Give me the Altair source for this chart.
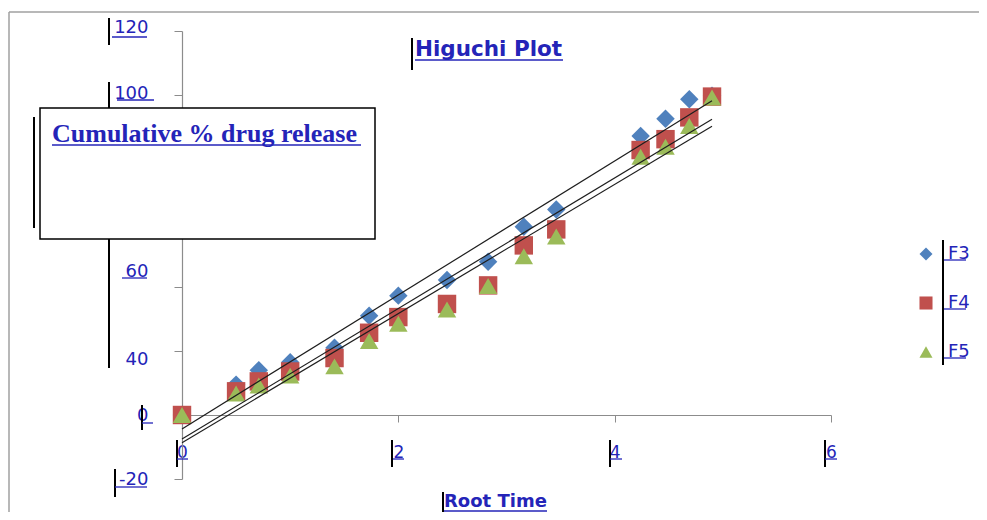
import altair as alt
import pandas as pd

# ---------------- data ----------------
root_time = [0, 0.5, 0.71, 1.0, 1.41, 1.73, 2.0, 2.45, 2.83, 3.16, 3.46, 4.24, 4.47, 4.69, 4.9]
f3 = [0, 9.5, 14.0, 16.5, 21.0, 31.0, 37.3, 42.2, 47.9, 58.8, 64.2, 87.2, 92.6, 98.7, 99.8]
f4 = [0, 7.4, 10.5, 13.6, 17.8, 25.7, 30.6, 34.7, 40.5, 53.0, 58.0, 82.8, 86.2, 93.0, 99.5]
f5 = [0, 6.7, 9.2, 12.3, 15.2, 23.1, 28.5, 33.0, 40.3, 49.6, 55.8, 80.7, 83.8, 90.3, 99.2]
series_names = ["F3", "F4", "F5"]
series_colors = ["#4F81BD", "#C0504D", "#9BBB59"]
series_shapes = ["diamond", "square", "triangle-up"]
x_ticks = [0, 2, 4, 6]
y_ticks = [-20, 0, 20, 40, 60, 80, 100, 120]

rows = []
for name, vals in zip(series_names, [f3, f4, f5]):
    for t, v in zip(root_time, vals):
        rows.append({"series": name, "x": t, "y": v})
df = pd.DataFrame(rows)

# ---------------- style ----------------
BLUE = "#2424b8"
GREY = "#8c8c8c"
W, H = 649, 448
one = alt.InlineData(values=[{"k": 1}])

x_scale = alt.Scale(domain=[0, 6], nice=False, zero=False)
y_scale = alt.Scale(domain=[-20, 120], nice=False, zero=False)

x_axis = alt.Axis(
    values=x_ticks, offset=-64, title=None, grid=False, format="d",
    domainColor=GREY, tickColor=GREY, tickSize=7, domainWidth=1.2,
    labelFont="DejaVu Sans", labelFontSize=17, labelColor=BLUE,
    labelBaseline="middle", labelPadding=30, labelFlush=False, labelOverlap=False,
)
y_axis = alt.Axis(
    values=y_ticks, title=None, grid=False,
    domainColor=GREY, tickColor=GREY, tickSize=8, domainWidth=1.2,
    labelFont="DejaVu Sans", labelFontSize=18, labelColor=BLUE,
    labelPadding=26, labelFlush=False, labelOverlap=False,
    labelExpr="datum.value == 20 || datum.value == 80 ? '' : '' + datum.value",
    labelOffset={"condition": [
        {"test": "datum.value == 120", "value": -4},
        {"test": "datum.value == 100", "value": -2},
        {"test": "datum.value == 60", "value": 48},
        {"test": "datum.value == 40", "value": 72},
    ], "value": 0},
)

legend = alt.Legend(
    title=None, orient="none", legendX=735, legendY=214, padding=0,
    symbolSize=170, symbolStrokeWidth=0, symbolOpacity=1,
    labelFont="DejaVu Sans", labelFontSize=18, labelColor=BLUE,
    labelOffset=13, rowPadding=31,
)

points = alt.Chart(df).mark_point(filled=True, opacity=1, size=340).encode(
    x=alt.X("x:Q", scale=x_scale, axis=x_axis),
    y=alt.Y("y:Q", scale=y_scale, axis=y_axis),
    color=alt.Color("series:N", scale=alt.Scale(domain=series_names, range=series_colors), legend=legend),
    shape=alt.Shape("series:N", scale=alt.Scale(domain=series_names, range=series_shapes), legend=legend),
)

trend = alt.Chart(df).transform_regression("x", "y", groupby=["series"]).mark_line(
    color="#1e1e1e", strokeWidth=1.2
).encode(
    x=alt.X("x:Q", scale=x_scale),
    y=alt.Y("y:Q", scale=y_scale),
    detail="series:N",
)


def vbar(x, y1, y2, w=2.0, color="black"):
    return alt.Chart(one).mark_rule(color=color, strokeWidth=w).encode(
        x=alt.value(x), y=alt.value(y1), y2=alt.value(y2))


def hline(x1, x2, y, w=1.3, color=BLUE):
    return alt.Chart(one).mark_rule(color=color, strokeWidth=w).encode(
        x=alt.value(x1), x2=alt.value(x2), y=alt.value(y))


def label(text, x, y, font="DejaVu Sans", size=18, weight="bold"):
    return alt.Chart(one).mark_text(
        font=font, fontSize=size, fontWeight=weight, color=BLUE,
        align="left", baseline="alphabetic",
    ).encode(x=alt.value(x), y=alt.value(y), text=alt.value(text))


frame = [
    hline(-173, 900, -19, w=1.5, color="#a0a0a0"),
    vbar(-173, -19, 700, w=1.5, color="#a0a0a0"),
]

box = alt.Chart(one).mark_rect(fill="white", stroke="black", strokeWidth=1.5).encode(
    x=alt.value(-142), x2=alt.value(193), y=alt.value(77), y2=alt.value(208))

bars = [
    vbar(-73, -13, 14),
    vbar(-73, 51, 337),
    vbar(-40, 374, 399),
    vbar(-5, 409, 436),
    vbar(-67, 438, 466),
    vbar(210, 409, 436),
    vbar(428, 409, 436),
    vbar(643, 409, 436),
    vbar(230, 7, 39),
    vbar(261, 461, 486),
    vbar(761, 209, 334),
]

underlines = [
    hline(-70, -35, 6),      # 120
    hline(-65, -28, 69),     # 100
    hline(-60, -35, 247),    # 60
    hline(-40, -29, 392),    # 0
    hline(-67, -35, 456),    # -20
    hline(-5, 6, 428),       # x 0
    hline(211, 222, 428),    # x 2
    hline(428, 440, 428),    # x 4
    hline(643, 655, 428),    # x 6
    hline(762, 784, 229),    # F3
    hline(762, 784, 278),    # F4
    hline(762, 784, 327),    # F5
]

texts = [
    label("Higuchi Plot", 233, 25, size=21.5),
    hline(233, 381, 29),
    label("Root Time", 262, 476, size=18),
    hline(262, 365, 480),
]

box_parts = [
    box,
    vbar(-148, 86, 197),
    label("Cumulative % drug release", -130, 111, font="Liberation Serif", size=26),
    hline(-130, 179, 114),
]

chart = alt.layer(
    *frame, points, trend, *bars, *underlines, *texts, *box_parts
).properties(
    width=W, height=H,
    padding={"left": 174, "top": 23, "right": 148, "bottom": 33},
    autosize=alt.AutoSizeParams(type="none"),
).configure_view(stroke=None)

chart.save("out.html", embed_options={"renderer": "svg", "actions": False})
